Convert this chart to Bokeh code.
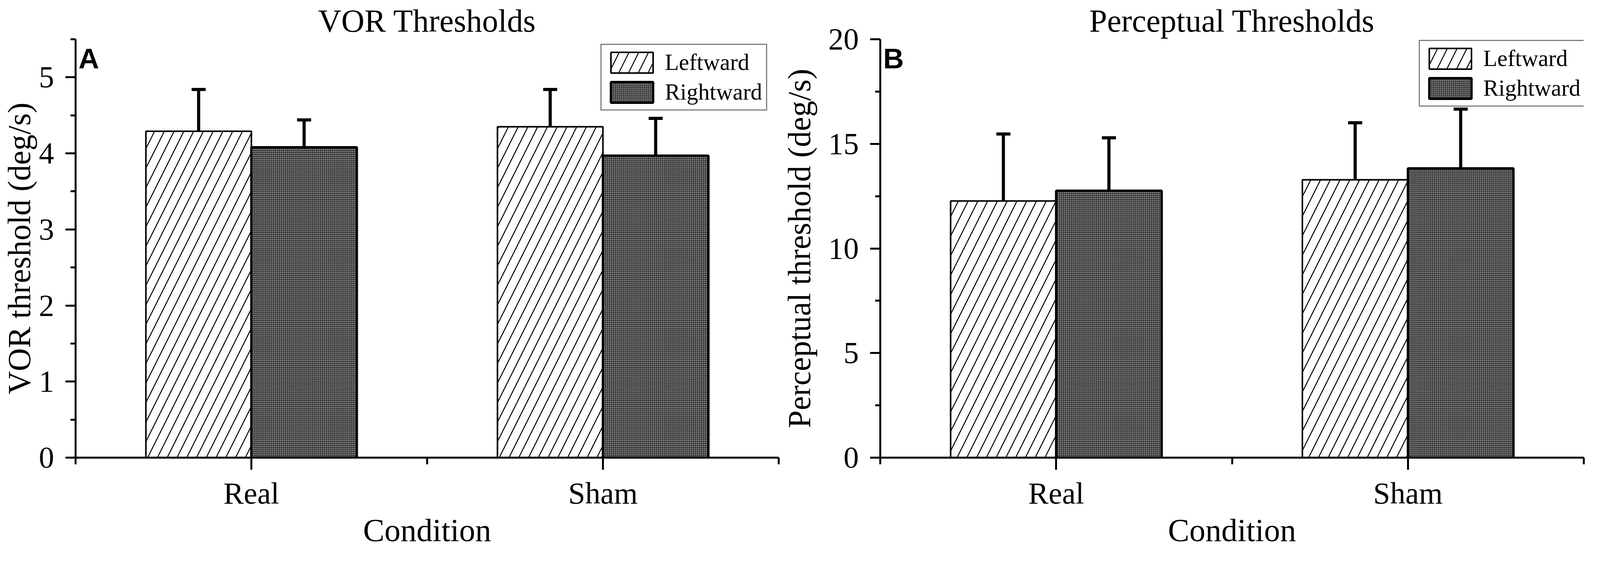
import numpy as np
from bokeh.plotting import figure
from bokeh.models import Range1d, FixedTicker, Whisker, TeeHead, ColumnDataSource, Legend, LegendItem
from bokeh.layouts import row
from bokeh.embed import file_html
from bokeh.resources import INLINE

# ---------------- data ----------------
conditions = ["Real", "Sham"]
series = ["Leftward", "Rightward"]
panel_letters = ["A", "B"]
panel_titles = ["VOR Thresholds", "Perceptual Thresholds"]
y_labels = ["VOR threshold (deg/s)", "Perceptual threshold (deg/s)"]
x_label = "Condition"

vor_left = [4.29, 4.35]
vor_left_err = [0.55, 0.49]
vor_right = [4.08, 3.97]
vor_right_err = [0.36, 0.49]

perc_left = [12.27, 13.28]
perc_left_err = [3.20, 2.73]
perc_right = [12.76, 13.83]
perc_right_err = [2.53, 2.83]

vor_yticks = [0, 1, 2, 3, 4, 5]
vor_yminor = [0.5, 1.5, 2.5, 3.5, 4.5, 5.5]
perc_yticks = [0, 5, 10, 15, 20]
perc_yminor = [2.5, 7.5, 12.5, 17.5]
x_minor = [0.5, 1.5, 2.5]

# ---------------- layout constants (CSS px) ----------------
SERIF = "Liberation Serif"
SANS = "Liberation Sans"
H = 1405
BORDER_TOP = 100
FRAME_H = 1076
BORDER_BOTTOM = H - BORDER_TOP - FRAME_H

WA, WB = 1997, 2094
BLA, BRA = 191, 4
BLB, BRB = 253, 37


def make_panel(letter, title, ylabel, ymax, yticks, yminor, left, left_err, right, right_err,
               width, border_left, border_right, ylabel_standoff, legend_loc):
    centers = np.arange(1, len(conditions) + 1, dtype=float)
    bw = 0.3
    lx = centers - bw / 2
    rx = centers + bw / 2

    p = figure(width=width, height=H, output_backend="svg", toolbar_location=None,
               x_range=Range1d(0.5, 2.5), y_range=Range1d(0, ymax), title=title,
               min_border_left=border_left, min_border_right=border_right,
               min_border_top=BORDER_TOP, min_border_bottom=BORDER_BOTTOM)
    p.outline_line_color = None
    p.grid.visible = False

    p.title.align = "center"
    p.title.vertical_align = "top"
    p.title.text_font = SERIF
    p.title.text_font_size = "82px"
    p.title.text_font_style = "normal"
    p.title.text_color = "black"
    p.title.standoff = 0

    p.vbar(x=lx, top=left, width=bw, bottom=0, fill_color="white", line_color="black",
           line_width=4, hatch_pattern="/", hatch_scale=50, hatch_weight=2.5,
           hatch_color="black", legend_label=series[0])
    p.vbar(x=rx, top=right, width=bw, bottom=0, fill_color="#2e2e2e", line_color="black",
           line_width=6, hatch_pattern="ring", hatch_scale=5, hatch_weight=1,
           hatch_color="#b8b8b8", legend_label=series[1])

    tops = np.concatenate([left, right])
    errs = np.concatenate([left_err, right_err])
    src = ColumnDataSource(dict(base=np.concatenate([lx, rx]), upper=tops + errs, lower=tops - errs))
    w = Whisker(source=src, base="base", upper="upper", lower="lower",
                line_width=8, line_color="black",
                upper_head=TeeHead(size=36, line_width=8, line_color="black"),
                lower_head=TeeHead(size=36, line_width=8, line_color="black"))
    p.add_layout(w)

    xa = p.xaxis[0]
    xa.ticker = FixedTicker(ticks=list(centers), minor_ticks=x_minor)
    xa.major_label_overrides = {float(c): n for c, n in zip(centers, conditions)}
    xa.axis_line_width = 5
    xa.major_tick_line_width = 5
    xa.minor_tick_line_width = 5
    xa.major_tick_out = 31
    xa.major_tick_in = 0
    xa.minor_tick_out = 17
    xa.minor_tick_in = 0
    xa.major_label_text_font = SERIF
    xa.major_label_text_font_size = "78px"
    xa.major_label_text_color = "black"
    xa.major_label_standoff = 16
    xa.axis_label = x_label
    xa.axis_label_text_font = SERIF
    xa.axis_label_text_font_size = "82px"
    xa.axis_label_text_font_style = "normal"
    xa.axis_label_text_color = "black"
    xa.axis_label_standoff = 3

    ya = p.yaxis[0]
    ya.ticker = FixedTicker(ticks=yticks, minor_ticks=yminor)
    ya.axis_line_width = 5
    ya.major_tick_line_width = 5
    ya.minor_tick_line_width = 5
    ya.major_tick_out = 26
    ya.major_tick_in = 0
    ya.minor_tick_out = 13
    ya.minor_tick_in = 0
    ya.major_label_text_font = SERIF
    ya.major_label_text_font_size = "78px"
    ya.major_label_text_color = "black"
    ya.major_label_standoff = 29
    ya.axis_label = ylabel
    ya.axis_label_text_font = SERIF
    ya.axis_label_text_font_size = "82px"
    ya.axis_label_text_font_style = "normal"
    ya.axis_label_text_color = "black"
    ya.axis_label_standoff = ylabel_standoff

    lg = p.legend[0]
    lg.location = legend_loc
    lg.border_line_color = "black"
    lg.border_line_width = 3
    lg.background_fill_color = "white"
    lg.background_fill_alpha = 1.0
    lg.padding = 10
    lg.spacing = 7
    lg.margin = 0
    lg.glyph_width = 135
    lg.glyph_height = 66
    lg.label_standoff = 17
    lg.label_text_font = SERIF
    lg.label_text_font_size = "59px"
    lg.label_text_color = "black"
    lg.label_text_baseline = "middle"

    # panel letter (A / B) as a text-only legend in the top-left corner of the plot area
    tag = Legend(items=[LegendItem(label=letter)], location="top_left",
                 glyph_width=0, glyph_height=1, label_standoff=0, padding=0, margin=8,
                 spacing=0, border_line_color=None, background_fill_alpha=0,
                 label_text_font=SANS, label_text_font_style="bold",
                 label_text_font_size="73px", label_text_color="black",
                 label_text_baseline="middle")
    p.add_layout(tag)
    return p


pA = make_panel(panel_letters[0], panel_titles[0], y_labels[0], 5.5, vor_yticks, vor_yminor,
                vor_left, vor_left_err, vor_right, vor_right_err,
                width=WA, border_left=BLA, border_right=BRA, ylabel_standoff=2,
                legend_loc=(1344, 888))
pB = make_panel(panel_letters[1], panel_titles[1], y_labels[1], 20, perc_yticks, perc_yminor,
                perc_left, perc_left_err, perc_right, perc_right_err,
                width=WB, border_left=BLB, border_right=BRB, ylabel_standoff=26,
                legend_loc=(1379, 898))

layout = row(pA, pB)
open("out.html", "w").write(file_html(layout, INLINE))
